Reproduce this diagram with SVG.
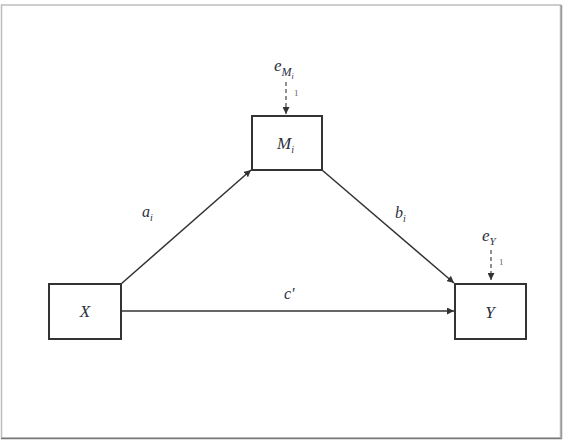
<svg xmlns="http://www.w3.org/2000/svg" width="566" height="441" viewBox="0 0 566 441">
<style>
.box{fill:#fff;stroke:#333;stroke-width:2}
.t{font-family:"Liberation Serif","Times New Roman",serif;font-style:italic;fill:#2c3140}
.n{font-family:"Liberation Serif","Times New Roman",serif;fill:#6b6650}
.c{stroke:#333;stroke-width:1.5;fill:none}
.d{stroke:#555;stroke-width:1.3;fill:none;stroke-dasharray:4,3}
</style>
<defs>
<marker id="ah" viewBox="0 0 10 10" refX="10" refY="5" markerWidth="7" markerHeight="7" markerUnits="userSpaceOnUse" orient="auto">
<path d="M0,0 L10,5 L0,10 z" fill="#333"/>
</marker>
</defs>
<rect x="0" y="0" width="566" height="441" fill="#fff"/>
<rect x="1.5" y="5" width="559" height="433" fill="none" stroke="#bdbdbd" stroke-width="1.5"/>
<line x1="1" y1="438.5" x2="562" y2="438.5" stroke="#777" stroke-width="1.5"/>
<line x1="561.5" y1="5" x2="561.5" y2="439" stroke="#999" stroke-width="1.5"/>
<g id="connectors">
<line class="c" x1="121" y1="284" x2="251" y2="170" marker-end="url(#ah)"/>
<line class="c" x1="322" y1="170" x2="454" y2="283" marker-end="url(#ah)"/>
<line class="c" x1="121" y1="311" x2="454" y2="311" marker-end="url(#ah)"/>
<line class="d" x1="286" y1="82" x2="286" y2="114" marker-end="url(#ah)"/>
<line class="d" x1="491" y1="250" x2="491" y2="280" marker-end="url(#ah)"/>
<text class="t" x="142" y="217" font-size="16">a<tspan font-size="10" dy="4">i</tspan></text>
<text class="t" x="395" y="218" font-size="16">b<tspan font-size="10" dy="4">i</tspan></text>
<text class="t" x="284" y="299" font-size="16">c'</text>
</g>
<g id="X">
<rect class="box" x="49" y="284" width="72" height="55"/>
<text class="t" x="85" y="317" font-size="17" text-anchor="middle">X</text>
</g>
<g id="M">
<rect class="box" x="252" y="116" width="70" height="54"/>
<text class="t" x="277" y="149" font-size="17">M<tspan font-size="10" dy="4">i</tspan></text>
</g>
<g id="Y">
<rect class="box" x="455" y="284" width="71" height="55"/>
<text class="t" x="490" y="318" font-size="17" text-anchor="middle">Y</text>
</g>
<g id="eM">
<text class="t" x="274" y="71" font-size="17">e<tspan font-size="12" dy="5">M</tspan><tspan font-size="8" dy="3">i</tspan></text>
<text class="n" x="294" y="96" font-size="9">1</text>
</g>
<g id="eY">
<text class="t" x="482" y="241" font-size="17">e<tspan font-size="11" dy="4">Y</tspan></text>
<text class="n" x="499" y="265" font-size="9">1</text>
</g>
</svg>
